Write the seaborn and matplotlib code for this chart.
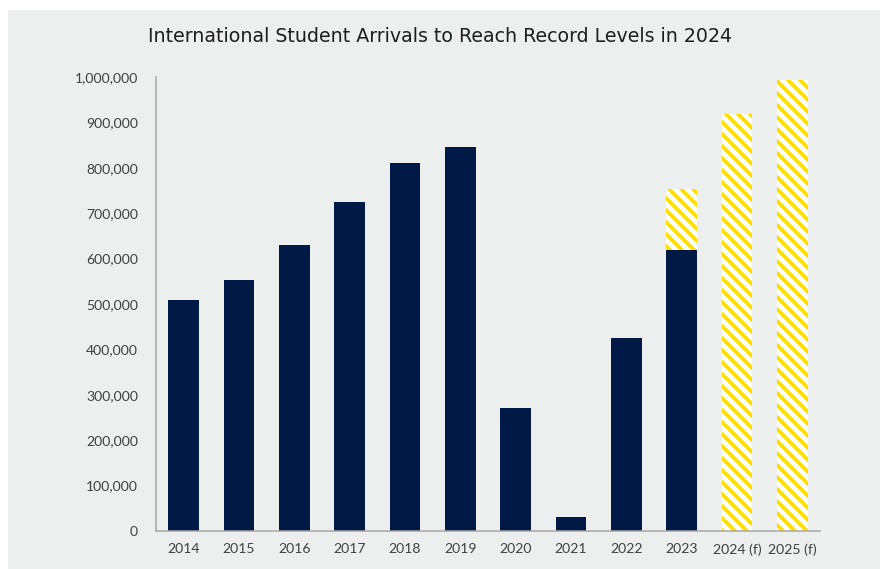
import numpy as np
import pandas as pd
import matplotlib.pyplot as plt
import matplotlib.patches as mpatches
from matplotlib.ticker import FuncFormatter
import seaborn as sns

# values
years = ['2014', '2015', '2016', '2017', '2018', '2019', '2020', '2021', '2022', '2023', '2024 (f)', '2025 (f)']
actual = [508000, 552000, 631000, 724000, 810000, 845000, 272000, 31000, 426000, 620000, 0, 0]
forecast = [0, 0, 0, 0, 0, 0, 0, 0, 0, 753000, 918000, 993000]

navy = '#001A45'
yellow = '#FFDD00'
bg = '#EDEFEE'

sns.set_style('white')
plt.rcParams['font.family'] = ['Lato', 'DejaVu Sans']
plt.rcParams['hatch.linewidth'] = 3.6

df = pd.DataFrame({'year': years, 'actual': actual, 'forecast': forecast})

# dpi 72 -> hatch cell of 72 px, '\\\\' gives stripes about 12 px apart
fig = plt.figure(figsize=(884 / 72, 569 / 72), dpi=72, facecolor='white')
fig.patches.append(mpatches.Rectangle((8 / 884, 0), 872 / 884, 559 / 569,
                                      transform=fig.transFigure, facecolor=bg,
                                      edgecolor='none', zorder=-10))
ax = fig.add_axes([156 / 884, 38 / 569, 664 / 884, (531 - 77) / 569])
ax.set_facecolor(bg)

# forecast totals first (hatched), then actual arrivals over them
sns.barplot(data=df, x='year', y='forecast', color='white', width=0.56,
            saturation=1, ax=ax)
for p in ax.patches:
    p.set_facecolor('white')
    p.set_edgecolor(yellow)
    p.set_linewidth(0)
    p.set_hatch('\\\\')
n_hatch = len(ax.patches)
sns.barplot(data=df, x='year', y='actual', color=navy, width=0.56,
            saturation=1, ax=ax)
for p in ax.patches[n_hatch:]:
    p.set_linewidth(0)

ax.set_xlim(-0.5, 11.5)
ax.set_ylim(0, 1000000)
ax.set_yticks(np.arange(0, 1000001, 100000))
ax.yaxis.set_major_formatter(FuncFormatter(lambda v, _: f'{int(v):,}'))
ax.set_xlabel('')
ax.set_ylabel('')
ax.tick_params(axis='both', length=0, labelsize=14, labelcolor='#404040')
ax.tick_params(axis='y', pad=18)
ax.tick_params(axis='x', pad=12)

for side in ['top', 'right']:
    ax.spines[side].set_visible(False)
for side in ['left', 'bottom']:
    ax.spines[side].set_color('#A6A6A6')
    ax.spines[side].set_linewidth(1.5)

fig.text(440 / 884, 1 - 36 / 569, 'International Student Arrivals to Reach Record Levels in 2024',
         ha='center', va='center', fontsize=19, color='#1E1E1E',
         family=['DejaVu Sans'])

fig.savefig('out.png', dpi=72, facecolor='white')
